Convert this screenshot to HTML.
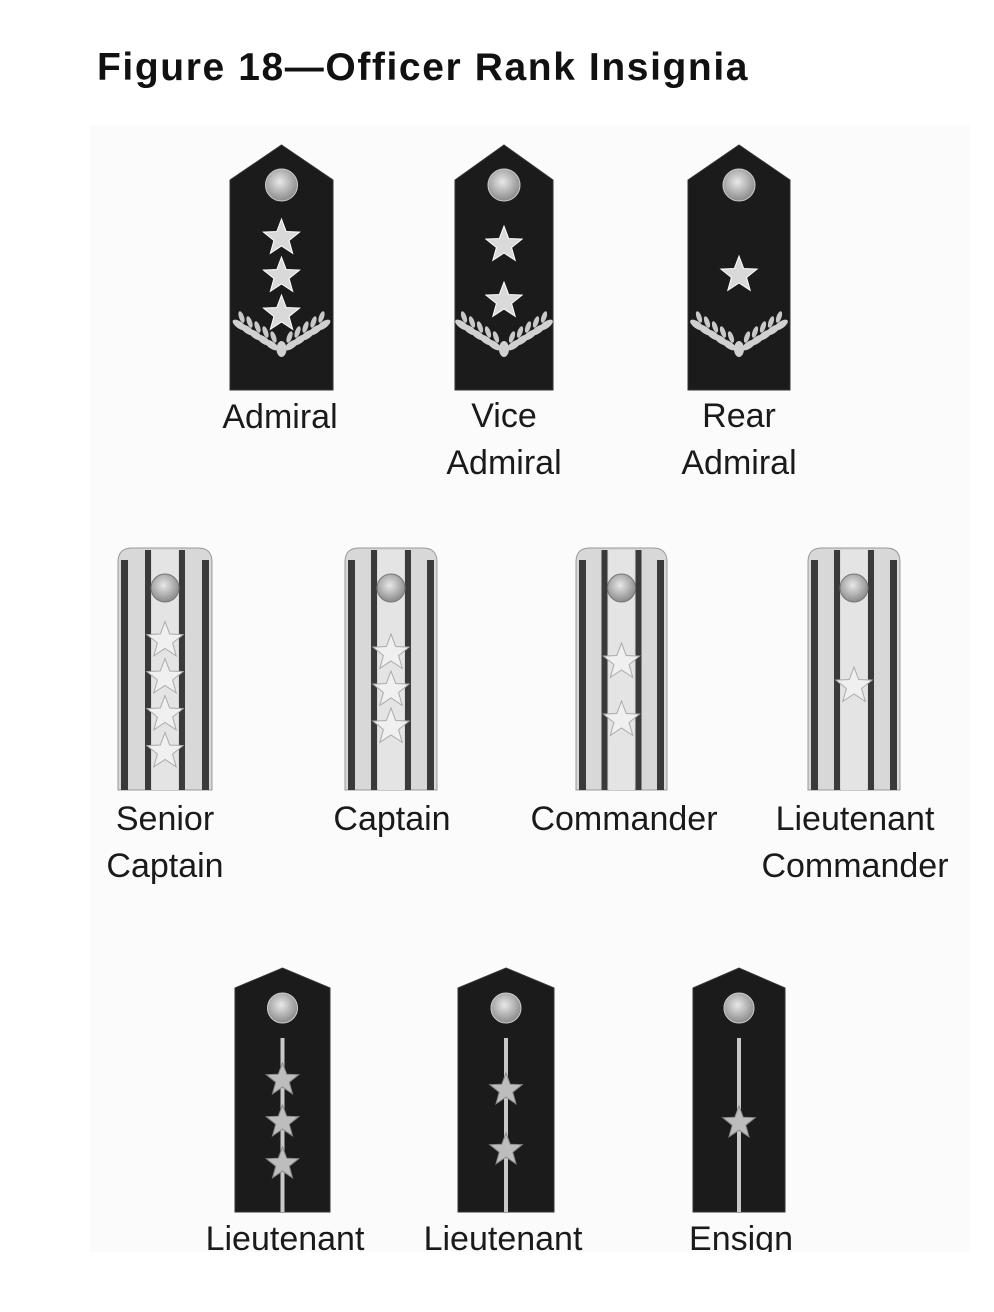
<!DOCTYPE html>
<html><head><meta charset="utf-8">
<style>
html,body{margin:0;padding:0;background:#fff;}
body{width:994px;height:1312px;position:relative;overflow:hidden;font-family:"Liberation Sans",sans-serif;}
#title{position:absolute;left:97px;top:46px;font-size:39px;font-weight:bold;color:#111;letter-spacing:1.6px;white-space:nowrap;}
svg{position:absolute;left:0;top:0;}
</style></head>
<body>
<div id="title">Figure 18—Officer Rank Insignia</div>
<svg id="fig" width="994" height="1312" viewBox="0 0 994 1312">
<defs>
<clipPath id="bgclip"><rect x="90" y="125" width="880" height="1127"/></clipPath>
<radialGradient id="btn" cx="0.45" cy="0.4" r="0.6"><stop offset="0" stop-color="#e8e8e8"/><stop offset="1" stop-color="#8a8a8a"/></radialGradient>
</defs>
<rect x="90" y="125" width="880" height="1127" fill="#fbfbfb"/>
<g id="items" clip-path="url(#bgclip)"></g>
</svg>
<script>
const ranks = ["Admiral","Vice Admiral","Rear Admiral","Senior Captain","Captain","Commander","Lieutenant Commander","Lieutenant","Lieutenant","Ensign"];
const starCounts = [3,2,1,4,3,2,1,3,2,1];
const styles = ["flag","flag","flag","stripe","stripe","stripe","stripe","junior","junior","junior"];
const labelLines = [["Admiral"],["Vice","Admiral"],["Rear","Admiral"],["Senior","Captain"],["Captain"],["Commander"],["Lieutenant","Commander"],["Lieutenant"],["Lieutenant"],["Ensign"]];

const NS="http://www.w3.org/2000/svg";
const g=document.getElementById('items');
function el(t,a,p){const e=document.createElementNS(NS,t);for(const k in a)e.setAttribute(k,a[k]);(p||g).appendChild(e);return e;}
function starPath(cx,cy,R){const r=R*0.42;let d="";for(let i=0;i<10;i++){const a=-Math.PI/2+i*Math.PI/5;const rr=i%2?r:R;d+=(i?"L":"M")+(cx+rr*Math.cos(a)).toFixed(1)+","+(cy+rr*Math.sin(a)).toFixed(1);}return d+"Z";}

const geom=[
 [230,145,103,245],[455,145,98,245],[688,145,102,245],
 [118,548,94,242],[345,548,92,242],[576,548,91,242],[808,548,92,242],
 [235,968,95,244],[458,968,96,244],[693,968,92,244]
];
const labelX=[280,504,739,165,392,624,855,285,503,741];
const labelY=[428,427,427,830,830,830,830,1250,1250,1250];

ranks.forEach((rk,i)=>{
  const [x,y,w,h]=geom[i];const cx=x+w/2;const st=styles[i];
  const grp=el('g',{});
  
  
  if(st==="stripe"){
    const r=14;
    el('path',{d:`M${x},${y+r}Q${x},${y} ${x+r},${y}L${x+w-r},${y}Q${x+w},${y} ${x+w},${y+r}L${x+w},${y+h}L${x},${y+h}Z`,fill:'#d8d8d8',stroke:'#999','stroke-width':1},grp);
    [[x+3,7],[x+w-10,7],[cx-20,6],[cx+14,6]].forEach(([sx,sw])=>{
      const outer=(sx<x+10||sx>x+w-12);
      el('rect',{x:sx,y:outer?y+12:y+2,width:sw,height:h-(outer?12:2),fill:'#3a3a3a'},grp);
    });
    el('rect',{x:cx-13,y:y+2,width:26,height:h-2,fill:'#e4e4e4'},grp);
    el('circle',{cx:cx,cy:y+40,r:14,fill:'url(#btn)',stroke:'#777'},grp);
    const n=starCounts[i];
    const sp=n===2?58:37;
    const mid=y+(n===4?148:(n===3?142:(n===2?143:138)));
    const start=mid-(n-1)*sp/2;
    for(let k=0;k<n;k++){el('path',{d:starPath(cx,start+k*sp,19),fill:'#f0f0f0',stroke:'#aaa','stroke-width':1},grp);}
  } else {
    const pk=st==="flag"?35:20;
    el('path',{d:`M${x},${y+pk}L${cx},${y}L${x+w},${y+pk}L${x+w},${y+h}L${x},${y+h}Z`,fill:'#1b1b1b',stroke:'#333'},grp);
    el('circle',{cx:cx,cy:y+40,r:st==="flag"?16:15,fill:'url(#btn)',stroke:'#ccc'},grp);
    const n=starCounts[i];
    if(st==="flag"){
      const spc=n===2?56:38;const top=n===1?y+130:(n===2?y+100:y+93);
      for(let k=0;k<n;k++){el('path',{d:starPath(cx,top+k*spc,19),fill:'#d9d9d9',stroke:'#fff','stroke-width':1},grp);}
      const ly=y+200;
      [-1,1].forEach(s=>{
        for(let k=0;k<5;k++){
          const ex=cx+s*(10+k*8), ey=ly-k*5;
          el('ellipse',{cx:ex,cy:ey,rx:8,ry:3.5,transform:`rotate(${s*-35} ${ex} ${ey})`,fill:'#d0d0d0'},grp);
          el('ellipse',{cx:ex-s*2,cy:ey-8,rx:6,ry:2.5,transform:`rotate(${s*-70} ${ex-s*2} ${ey-8})`,fill:'#c8c8c8'},grp);
        }
      });
      el('ellipse',{cx:cx,cy:ly+4,rx:5,ry:8,fill:'#d0d0d0'},grp);
    } else {
      el('rect',{x:cx-2,y:y+70,width:4,height:h-70,fill:'#c8c8c8'},grp);
      const sp=n===2?60:42;const top=n===1?y+155:(n===2?y+122:y+112);
      for(let k=0;k<n;k++){el('path',{d:starPath(cx,top+k*sp,17),fill:'#bdbdbd',stroke:'#888','stroke-width':1},grp);}
    }
  }
  labelLines[i].forEach((ln,j)=>{
    const t=el('text',{x:labelX[i],y:labelY[i]+j*47,'text-anchor':'middle','font-size':34,'font-family':'Liberation Sans, sans-serif',fill:'#1a1a1a'},grp);
    t.textContent=ln;
    
    
  });
});
</script>
</body></html>
